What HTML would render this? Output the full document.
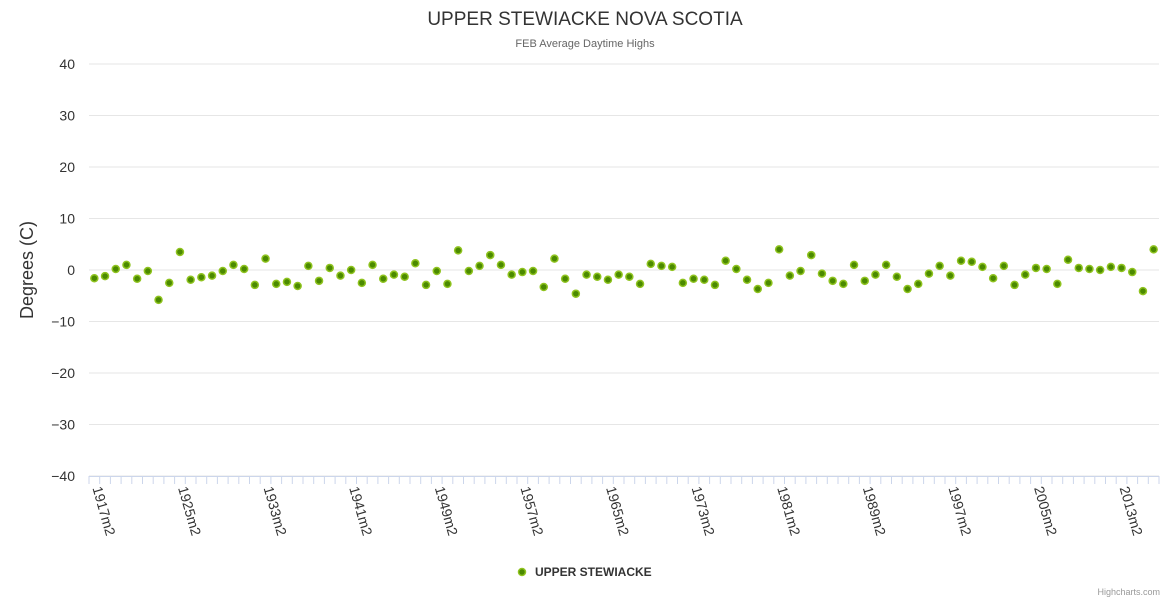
<!DOCTYPE html>
<html><head><meta charset="utf-8"><style>
body{margin:0;background:#fff;font-family:"Liberation Sans",sans-serif;}
svg text{font-family:"Liberation Sans",sans-serif;}
</style></head><body>
<svg id="chart" width="1170" height="600" xmlns="http://www.w3.org/2000/svg">
<rect width="1170" height="600" fill="#fff"/>
<text x="585" y="25" text-anchor="middle" font-size="19" fill="#333">UPPER STEWIACKE NOVA SCOTIA</text>
<text x="585" y="47" text-anchor="middle" font-size="11" fill="#666">FEB Average Daytime Highs</text>
<text transform="translate(33,270) rotate(-90)" text-anchor="middle" font-size="18" fill="#333">Degrees (C)</text>
<g id="grid"></g><g id="xaxis"></g><g id="points"></g>
<g>
<circle cx="522" cy="572" r="3.5" fill="#4b8a00" stroke="#8fc31f" stroke-width="1.5"/>
<text x="535" y="576" font-size="12" font-weight="bold" fill="#333">UPPER STEWIACKE</text></g>
<text x="1160" y="595" text-anchor="end" font-size="9" fill="#999">Highcharts.com</text>
</svg>
<script>
const startYear = 1917;
const values = [-1.6,-1.2,0.2,1.0,-1.7,-0.2,-5.8,-2.5,3.5,-1.9,-1.4,-1.1,-0.2,1.0,0.2,-2.9,2.2,-2.7,-2.3,-3.1,0.8,-2.1,0.4,-1.1,0,-2.5,1.0,-1.7,-0.9,-1.3,1.3,-2.9,-0.2,-2.7,3.8,-0.2,0.8,2.9,1.0,-0.9,-0.4,-0.2,-3.3,2.2,-1.7,-4.6,-0.9,-1.3,-1.9,-0.9,-1.3,-2.7,1.2,0.8,0.6,-2.5,-1.7,-1.9,-2.9,1.8,0.2,-1.9,-3.7,-2.5,4.0,-1.1,-0.2,2.9,-0.7,-2.1,-2.7,1.0,-2.1,-0.9,1.0,-1.3,-3.7,-2.7,-0.7,0.8,-1.1,1.8,1.6,0.6,-1.6,0.8,-2.9,-0.9,0.4,0.2,-2.7,2.0,0.4,0.2,0.0,0.6,0.4,-0.4,-4.1,4.0];
const yTicks = [40,30,20,10,0,-10,-20,-30,-40];
const NS="http://www.w3.org/2000/svg";
const x0=89, x1=1159, n=values.length, step=(x1-x0)/n;
const xPos=i=>x0+step*(i+0.5);
const yPos=v=>270-(v*5.15);
function mk(t,a,p){const e=document.createElementNS(NS,t);for(const k in a)e.setAttribute(k,a[k]);p.appendChild(e);return e;}
const grid=document.getElementById('grid');
yTicks.forEach(v=>{
  const l=mk('line',{x1:x0,x2:x1,y1:yPos(v),y2:yPos(v),stroke:'#e6e6e6'},grid);
  
  
  const t=mk('text',{x:75,y:yPos(v)+5,'text-anchor':'end','font-size':14,fill:'#333'},grid);
  t.textContent=String(v).replace('-','\u2212');
  
  
});
const xa=document.getElementById('xaxis');
const ax=mk('line',{x1:x0,x2:x1,y1:476.5,y2:476.5,stroke:'#ccd6eb'},xa);


for(let i=0;i<=n;i++){mk('line',{x1:x0+step*i,x2:x0+step*i,y1:476,y2:484,stroke:'#ccd6eb'},xa);}
for(let i=0;i<n;i+=8){
  const x=xPos(i)-2;
  const t=mk('text',{transform:`translate(${x},488) rotate(74)`,'font-size':14,fill:'#333'},xa);
  t.textContent=(startYear+i)+'m2';
  
  
}
const pts=document.getElementById('points');
values.forEach((v,i)=>{
  const c=mk('circle',{cx:xPos(i),cy:yPos(v),r:3.5,fill:'#4b8a00',stroke:'#8fc31f','stroke-width':1.5},pts);
  
  
});
</script>
</body></html>
